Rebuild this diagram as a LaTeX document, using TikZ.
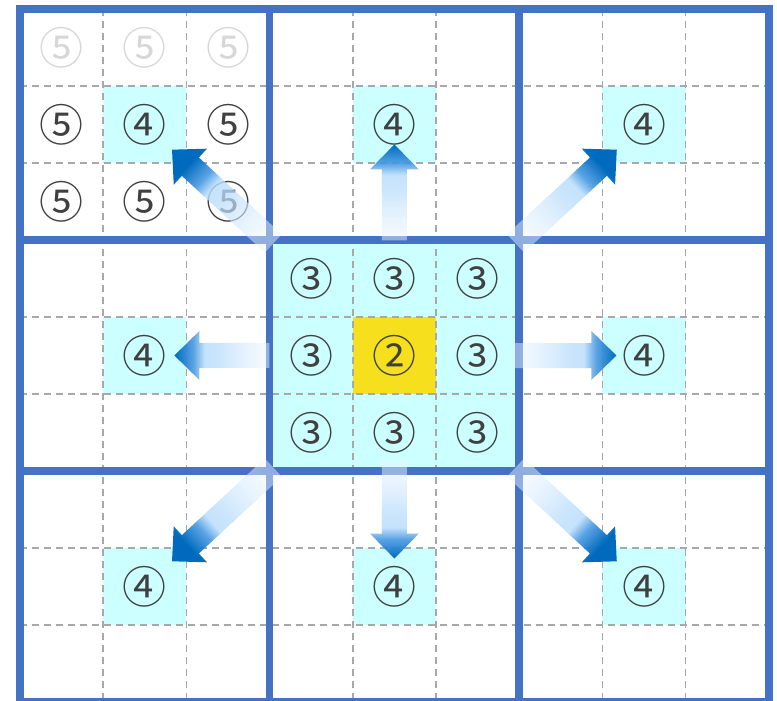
\documentclass[tikz,border=0pt]{standalone}
\usepackage{fontspec}
\newfontfamily\cjk{Noto Sans CJK SC}
\usetikzlibrary{calc,fadings}
\definecolor{gridblue}{RGB}{68,114,196}
\definecolor{dashgray}{RGB}{168,168,168}
\definecolor{cellcyan}{RGB}{204,255,255}
\definecolor{cellyellow}{RGB}{246,224,30}
\definecolor{labgray}{RGB}{64,64,64}
\definecolor{faintgray}{RGB}{215,215,215}
\definecolor{arrstart}{RGB}{236,246,255}
\definecolor{arrlight}{RGB}{185,221,252}
\definecolor{arrmid}{RGB}{70,152,225}
\definecolor{arrtip}{RGB}{0,106,190}
\pgfdeclareverticalshading{arrshade}{100bp}{color(0bp)=(arrstart); color(25bp)=(arrstart); color(52bp)=(arrlight); color(59bp)=(arrlight); color(65bp)=(arrmid); color(75bp)=(arrtip); color(100bp)=(arrtip)}
\tikzfading[name=arrowfade, top color=transparent!0, bottom color=transparent!55]
\tikzset{
  thickline/.style={draw=gridblue, line width=7.5pt},
  dashline/.style={draw=dashgray, line width=1.5pt, dash pattern=on 7pt off 5pt},
  lab/.style={font=\cjk\fontsize{44}{44}\selectfont, text=labgray, inner sep=0pt},
  faint/.style={lab, text=faintgray},
  arrowshade/.style={shading=arrshade, path fading=arrowfade},
}
\newcommand\blockarr[3]{%
  \path (#1) coordinate (aS) (#2) coordinate (aT);
  \path ($(aT)!25pt!(aS)$) coordinate (aB);
  \shade[arrowshade, shading angle=#3, fading angle=#3]
    ($(aS)!12.5pt!90:(aT)$) -- ($(aB)!12.5pt!90:(aT)$) -- ($(aB)!24.5pt!90:(aT)$) --
    (aT) -- ($(aB)!24.5pt!-90:(aT)$) -- ($(aB)!12.5pt!-90:(aT)$) --
    ($(aS)!12.5pt!-90:(aT)$) -- cycle;
}
\begin{document}
\begin{tikzpicture}[x=1pt,y=-1pt]
\useasboundingbox (0,0) rectangle (777,701);
\fill[white] (0,0) rectangle (777,701);
\def\xo{20}\def\yo{9}\def\cw{83.2}\def\ch{77}
% cyan cells
\foreach \c/\r in {3/3,4/3,5/3,3/4,5/4,3/5,4/5,5/5,1/1,4/1,7/1,1/4,7/4,1/7,4/7,7/7}{
  \fill[cellcyan] ({\xo+\c*\cw},{\yo+\r*\ch}) rectangle ++(\cw,\ch);
}
\fill[cellyellow] ({\xo+4*\cw},{\yo+4*\ch}) rectangle ++(\cw,\ch);
% dashed grid
\foreach \i in {1,2,4,5,7,8}{
  \draw[dashline] ({\xo+\i*\cw},\yo) -- ({\xo+\i*\cw},{\yo+9*\ch});
  \draw[dashline] (\xo,{\yo+\i*\ch}) -- ({\xo+9*\cw},{\yo+\i*\ch});
}
% thick grid
\foreach \i in {0,3,6,9}{
  \draw[thickline] ({\xo+\i*\cw},{\yo-3.75}) -- ({\xo+\i*\cw},{\yo+9*\ch+3.75});
  \draw[thickline] ({\xo-3.75},{\yo+\i*\ch}) -- ({\xo+9*\cw+3.75},{\yo+\i*\ch});
}
% labels
\foreach \c/\r/\t/\s in {0/0/⑤/faint,1/0/⑤/faint,2/0/⑤/faint,
  0/1/⑤/lab,1/1/④/lab,2/1/⑤/lab,0/2/⑤/lab,1/2/⑤/lab,2/2/⑤/lab,
  4/1/④/lab,7/1/④/lab,1/4/④/lab,7/4/④/lab,1/7/④/lab,4/7/④/lab,7/7/④/lab,
  3/3/③/lab,4/3/③/lab,5/3/③/lab,3/4/③/lab,4/4/②/lab,5/4/③/lab,3/5/③/lab,4/5/③/lab,5/5/③/lab}{
  \node[\s] (c\c\r) at ({\xo+(\c+0.5)*\cw},{\yo+(\r+0.5)*\ch}) {\t};
}
% arrows
\blockarr{$(c44)!115pt!(c41)$}{$(c44)!211pt!(c41)$}{0}
\blockarr{$(c44)!105pt!(c47)$}{$(c44)!203pt!(c47)$}{180}
\blockarr{$(c44)!125pt!(c14)$}{$(c44)!220pt!(c14)$}{90}
\blockarr{$(c44)!120pt!(c74)$}{$(c44)!222pt!(c74)$}{-90}
\blockarr{$(c44)!165pt!(c11)$}{$(c44)!303pt!(c11)$}{47.3}
\blockarr{$(c44)!165pt!(c71)$}{$(c44)!303pt!(c71)$}{-47.3}
\blockarr{$(c44)!165pt!(c17)$}{$(c44)!303pt!(c17)$}{132.7}
\blockarr{$(c44)!165pt!(c77)$}{$(c44)!303pt!(c77)$}{-132.7}
\end{tikzpicture}
\end{document}
